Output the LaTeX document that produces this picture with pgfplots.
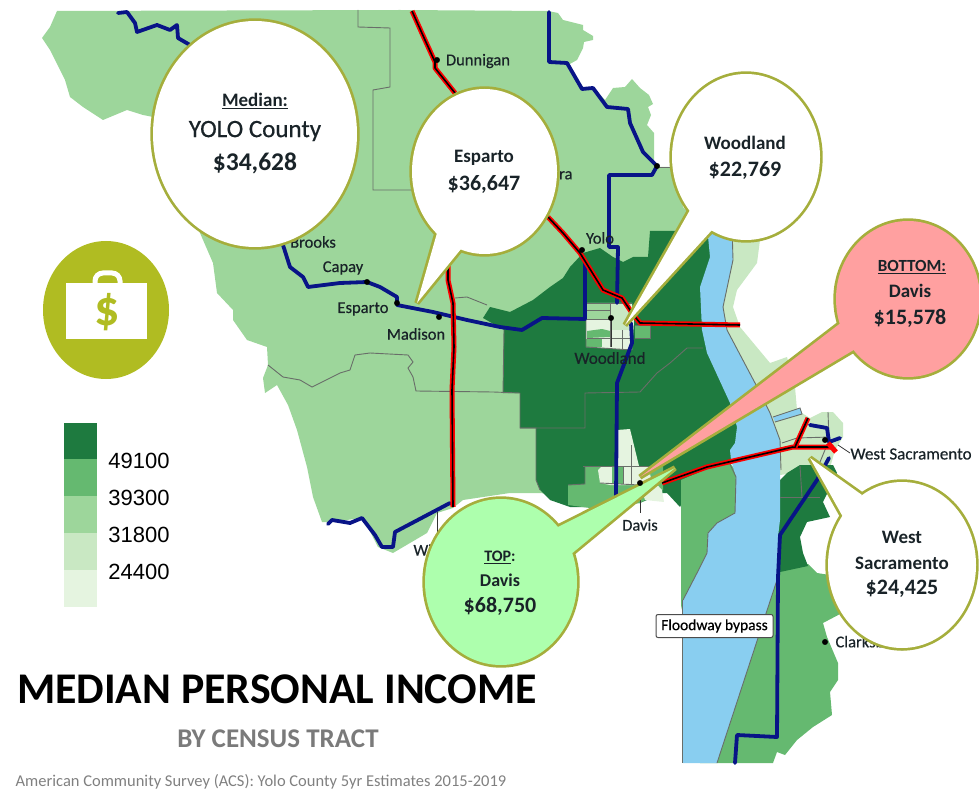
\documentclass[border=0pt]{standalone}
\usepackage{fontspec}
\usepackage{pgfplots}
\pgfplotsset{compat=1.18}
\setmainfont{Carlito}
\newfontfamily\arialf{Liberation Sans}
\newfontfamily\mapf[FakeBold=0.5]{Carlito}
\definecolor{g5}{RGB}{30,122,63}
\definecolor{g4}{RGB}{101,185,112}
\definecolor{g3}{RGB}{157,214,155}
\definecolor{g2}{RGB}{201,232,195}
\definecolor{g1}{RGB}{229,244,224}
\definecolor{river}{RGB}{137,206,240}
\definecolor{navy}{RGB}{8,20,135}
\definecolor{tract}{RGB}{105,110,105}
\definecolor{olive}{RGB}{165,174,60}
\definecolor{icon}{RGB}{176,188,34}
\definecolor{pinkb}{RGB}{255,160,160}
\definecolor{mintb}{RGB}{173,255,173}
\definecolor{txt}{RGB}{25,35,40}
\pgfplotsset{
  area/.style={fill=#1, draw=none},
  tr/.style={draw=tract, line width=0.9pt},
  road/.style={draw=navy, line width=3.8pt, line join=round, line cap=round},
  hwyr/.style={draw=red, line width=5pt, line join=round},
  hwyb/.style={draw=black, line width=1.6pt, line join=round},
}
% callout: stroke first, then fill over the inner half of the stroke
\newcommand{\bubble}[8]{%
  \draw[olive, line width=5.4pt, miter limit=4] (axis cs:#5) -- (axis cs:#6) -- (axis cs:#7) -- cycle;
  \draw[olive, line width=5.4pt] (axis cs:#1,#2) ellipse [x radius=#3pt, y radius=#4pt];
  \fill[#8] (axis cs:#5) -- (axis cs:#6) -- (axis cs:#7) -- cycle;
  \fill[#8] (axis cs:#1,#2) ellipse [x radius=#3pt, y radius=#4pt];
}
\newcommand{\sz}[1]{\fontsize{#1}{#1}\selectfont}
\newcommand{\lab}[4][\mapf\sz{16.5}]{\node[txt, font=#1] at (axis cs:#2,#3) {#4};}
\begin{document}
\begin{tikzpicture}
\path[use as bounding box] (0,0) rectangle (979pt,791pt);
\begin{axis}[
  at={(0,0)}, anchor=south west,
  scale only axis, width=979pt, height=791pt,
  xmin=0, xmax=979, ymin=0, ymax=791, y dir=reverse,
  hide axis,
]
% county base
\addplot[area=g3] coordinates {
 (57,11) (400,10) (548,11) (558,13) (563,20) (583,25) (583,30) (593,36) (593,40) (584,42) (583,48) (577,60) (568,65)
 (583,87) (593,88) (605,100) (613,88) (625,87) (632,79) (640,88) (649,95) (653,104) (648,107) (651,115) (647,125) (654,133)
 (654,167) (675,167) (683,207) (700,225) (700,320) (600,500) (540,493) (510,493) (463,500) (453,508) (437,513) (427,533)
 (393,553) (378,547) (363,518) (330,522) (322,522) (313,497) (307,467) (297,430) (288,405) (277,385) (265,393) (263,378)
 (268,365) (267,347) (247,340) (233,320) (233,310) (217,293) (213,263) (200,233) (153,117) (143,115) (127,110) (115,115)
 (103,120) (83,107) (70,97) (65,80) (50,50) (42,38) (50,27)
} --cycle;
% dark tract
\addplot[area=g5] coordinates {
 (483,318) (490,307) (510,312) (533,300) (550,287) (563,278) (570,267) (583,253) (600,248) (613,257) (623,262) (633,257)
 (648,257) (650,231) (685,231) (712,228) (740,400) (740,440) (731,462) (690,490) (680,507) (667,493) (663,493) (640,503)
 (593,507) (570,507) (550,500) (540,490) (536,480) (536,428) (520,428) (520,393) (503,393) (504,330)
} --cycle;
% east strip
\addplot[area=g2] coordinates {
 (730,238) (760,240) (757,263) (737,290) (733,307) (740,327) (770,363) (787,357) (795,387) (797,410) (810,418) (822,412)
 (833,412) (843,423) (843,437) (835,450) (830,468) (780,475) (775,440) (750,380) (720,330) (720,260)
} --cycle;
% south of West Sacramento
\addplot[area=g4] coordinates {
 (780,570) (808,564) (817,573) (830,575) (860,600) (842,613) (823,623) (827,637) (838,663) (838,680) (830,692) (832,715)
 (813,727) (797,740) (785,755) (777,752) (773,763) (700,763) (770,570)
} --cycle;
\addplot[area=g5] coordinates {
 (780,480) (787,473) (800,465) (833,465) (837,473) (823,502) (830,517) (807,522) (800,537) (803,553) (808,566) (780,572) (778,537)
} --cycle;
% west of the bypass
\addplot[area=g4] coordinates {
 (681,480) (728,460) (740,477) (740,513) (717,523) (708,533) (707,553) (697,573) (683,600) (681,610)
} --cycle;
% Floodway bypass
\addplot[area=river] coordinates {
 (707,226) (710,257) (700,287) (702,330) (707,353) (730,403) (737,427) (735,443) (730,450) (731,460) (736,477) (735,513)
 (717,523) (708,533) (707,553) (697,573) (683,600) (683,763) (717,763) (777,580) (778,537) (780,520) (780,440) (770,413)
 (755,383) (727,330) (723,307) (733,260) (732,226)
} --cycle;
\addplot[area=river] coordinates {(773,417) (800,408) (802,414) (775,422)} --cycle;
% Davis
\addplot[area=g4] coordinates {(568,485) (585,484) (585,466) (663,466) (663,490) (640,503) (600,507) (590,508) (568,505)} --cycle;
\addplot[area=g1] coordinates {
 (617,430) (630,429) (639,466) (648,466) (651,478) (662,490) (664,502) (645,500) (640,485) (610,485) (600,483) (598,470) (602,466) (617,466)
} --cycle;
\addplot[area=g4] coordinates {(612,467) (623,467) (623,484) (612,484)} --cycle;
% Woodland
\addplot[area=g1] coordinates {(586,303) (632,303) (634,322) (632,350) (586,347)} --cycle;
\addplot[area=g2] coordinates {(610,303) (631,303) (631,330) (610,330)} --cycle;
\addplot[area=g3] coordinates {(587,303) (610,303) (610,310) (587,310)} --cycle;
\addplot[area=g3] coordinates {(587,311) (610,311) (610,319) (587,319)} --cycle;
\addplot[area=g4] coordinates {(587,331) (602,329) (610,331) (610,337) (587,338)} --cycle;
\addplot[area=g4] coordinates {(586,339) (602,339) (602,347) (586,347)} --cycle;
\addplot[area=g4] coordinates {(635,325) (650,325) (650,338) (635,338)} --cycle;
% tract boundaries
\addplot[tr] coordinates {(358,10) (358,27) (390,28) (390,87) (373,90) (373,190) (413,190)};
\addplot[tr] coordinates {(268,365) (283,377) (300,380) (312,387) (340,373) (350,370) (355,355) (370,353) (408,355) (413,362) (408,368) (413,377) (416,391) (493,392) (520,393)};
\addplot[tr] coordinates {(455,298) (467,297) (487,305)};
\addplot[tr] coordinates {(503,393) (504,330)};
\addplot[tr] coordinates {(520,393) (520,428) (536,428) (536,480) (540,490)};
\addplot[tr] coordinates {(520,428) (585,428) (585,393) (640,392) (657,373) (670,363) (687,348) (703,348)};
\addplot[tr] coordinates {(732,226) (733,260) (723,307) (727,330) (755,383) (770,413) (780,440) (781,470)};
\addplot[tr] coordinates {(736,477) (735,513) (717,523) (708,533) (707,553) (697,573) (683,600)};
\addplot[tr] coordinates {(728,460) (736,477)};
\addplot[tr] coordinates {(682,600) (682,763)};
\addplot[tr] coordinates {(777,580) (717,763)};
\addplot[tr] coordinates {(773,417) (800,408) (802,414) (775,422)};
\addplot[tr] coordinates {(782,443) (797,438) (830,437)};
\addplot[tr] coordinates {(828,412) (829,440)};
\addplot[tr] coordinates {(827,445) (820,462)};
\addplot[tr] coordinates {(780,497) (820,497)};
\addplot[tr] coordinates {(800,466) (802,497)};
\addplot[tr] coordinates {(583,466) (663,466)};
\addplot[tr] coordinates {(585,466) (585,484) (568,485)};
\addplot[tr] coordinates {(600,483) (640,485)};
\addplot[tr] coordinates {(623,467) (623,484)};
\addplot[tr] coordinates {(631,445) (631,484)};
\addplot[tr] coordinates {(610,310.5) (587,310.5)};
\addplot[tr] coordinates {(587,319.5) (610,319.5)};
\addplot[tr] coordinates {(610,303) (610,347)};
\addplot[tr] coordinates {(587,303) (632,303)};
\addplot[tr] coordinates {(586,303) (586,347) (632,350)};
\addplot[tr] coordinates {(587,338.5) (632,338.5)};
\addplot[tr] coordinates {(622,330) (622,350)};
\addplot[tr] coordinates {(635,325) (650,325) (650,338) (635,338)};
\addplot[tr] coordinates {(658,167) (675,167)};
% leader lines
\addplot[draw=black!80, line width=0.8pt] coordinates {(611,318) (611,347)};
\addplot[draw=black!80, line width=0.8pt] coordinates {(640,483) (640,513)};
\addplot[draw=black!80, line width=0.8pt] coordinates {(437,512) (437,537)};
\addplot[draw=black!80, line width=0.8pt] coordinates {(838,445) (850,453)};
% county roads
\addplot[road] coordinates {(118,13) (127,12) (135,23) (137,32) (157,25) (170,30) (177,25) (178,38) (190,45)};
\addplot[road] coordinates {(283,245) (290,267) (303,277) (308,287) (340,283) (367,282) (380,287) (397,297) (397,305) (433,312) (467,320) (500,327) (522,330) (542,318) (585,319) (585,263)};
\addplot[road] coordinates {(549,12) (549,62) (567,63) (582,89) (593,88) (607,107) (628,109) (630,123) (643,152) (657,166) (652,175) (609,175) (609,247) (618,247) (617,303)};
\addplot[road] coordinates {(631,323) (632,343) (617,383) (616,497)};
\addplot[road] coordinates {(328,524) (332,520) (350,523) (362,518) (375,535) (382,547) (393,547) (395,532) (450,503)};
\addplot[road] coordinates {(829,458) (817,480) (780,535) (778,577) (777,737) (737,735) (735,763)};
\addplot[road] coordinates {(810,425) (827,428) (829,442) (840,438)};
% highways
\addplot[hwyr] coordinates {(412,11) (425,40) (435,62) (435,68) (455,93)};
\addplot[hwyb] coordinates {(412,11) (425,40) (435,62) (435,68) (455,93)};
\addplot[hwyr] coordinates {(548,217) (563,233) (580,253) (603,290) (622,298) (632,313) (640,323) (740,325)};
\addplot[hwyb] coordinates {(548,217) (563,233) (580,253) (603,290) (622,298) (632,313) (640,323) (740,325)};
\addplot[hwyr] coordinates {(448,263) (448,280) (453,303) (454,347) (452,390) (453,507)};
\addplot[hwyb] coordinates {(448,263) (448,280) (453,303) (454,347) (452,390) (453,507)};
\addplot[hwyr] coordinates {(662,483) (707,467) (793,447) (833,447)};
\addplot[hwyb] coordinates {(662,483) (707,467) (793,447) (833,447)};
\addplot[hwyr] coordinates {(795,447) (808,418)};
\addplot[hwyb] coordinates {(795,447) (808,418)};
\addplot[hwyr] coordinates {(828,443) (836,452)};
% towns
\addplot[only marks, mark=*, mark size=2.7pt, black] coordinates {
 (437,60) (582,250) (439,317) (367,282) (397,303) (611,318) (640,483) (825,440) (825,642) (657,166)
};
% town names
\lab{478}{61}{Dunnigan}
\lab{313}{242}{Brooks}
\lab{343}{268}{Capay}
\lab{363}{309}{Esparto}
\lab{416}{334}{Madison}
\lab{600}{238}{Yolo}
\node[txt, font=\mapf\sz{16.5}, anchor=east] at (axis cs:576,174) {Zamora};
\lab[\mapf\sz{17}]{610}{358}{Woodland}
\lab{640}{525}{Davis}
\lab[\mapf\sz{17}]{911}{454}{West Sacramento}
\node[txt, font=\mapf\sz{16.5}, anchor=west] at (axis cs:832,643) {Clarksburg};
\node[txt, font=\mapf\sz{16.5}, anchor=west] at (axis cs:410,550) {Winters};
\node[fill=white, draw=black!70, line width=1pt, rounded corners=2pt, inner sep=0pt,
  minimum width=117pt, minimum height=23pt, font=\mapf\sz{15.5}, text=black] at (axis cs:714.5,626) {Floodway bypass};
% callouts
\bubble{255}{134}{102}{113}{255,134}{255,134}{255,134}{white}
\bubble{484.5}{171.5}{72.5}{82.5}{437,233}{461,249}{417,303}{white}
\bubble{746}{157}{74}{83}{690,210}{712,230}{625,325}{white}
\bubble{908}{299}{72}{78}{842,322}{857,348}{640,477}{pinkb}
\bubble{501}{582}{76}{83}{556,528}{570,555}{675,468}{mintb}
\bubble{902}{565}{74}{83}{843,517}{862,495}{810,458}{white}
\lab[\bfseries\sz{19}]{255}{101}{\underline{Median:}}
\lab[\mapf\sz{25}]{255}{131}{YOLO County}
\lab[\bfseries\sz{25.5}]{255}{163}{\$34,628}
\lab[\bfseries\sz{19}]{484}{158}{Esparto}
\lab[\bfseries\sz{22}]{484}{184}{\$36,647}
\lab[\bfseries\sz{19}]{745}{143}{Woodland}
\lab[\bfseries\sz{22}]{745}{170}{\$22,769}
\lab[\bfseries\sz{17}]{912}{267}{\underline{BOTTOM:}}
\lab[\bfseries\sz{19}]{910}{291}{Davis}
\lab[\bfseries\sz{22}]{910}{318}{\$15,578}
\lab[\bfseries\sz{16}]{500}{557}{\underline{TOP}:}
\lab[\bfseries\sz{18}]{500}{580}{Davis}
\lab[\bfseries\sz{22}]{500}{606}{\$68,750}
\lab[\bfseries\sz{19}]{902}{537}{West}
\lab[\bfseries\sz{19}]{902}{563}{Sacramento}
\lab[\bfseries\sz{22}]{902}{589}{\$24,425}
% income bag
\fill[icon] (axis cs:106,310) ellipse [x radius=63pt, y radius=69pt];
\draw[white, line width=5pt] (axis cs:95,286) -- (axis cs:95,281) arc[start angle=180, end angle=90, radius=8pt] -- (axis cs:112,273) arc[start angle=90, end angle=0, radius=8pt] -- (axis cs:120,286);
\fill[white] (axis cs:66,283) rectangle (axis cs:147,339);
\node[icon, font=\bfseries\sz{50}] at (axis cs:107,312) {\$};
% legend
\addplot[area=g5] coordinates {(64,423) (97,423) (97,459) (64,459)} --cycle;
\addplot[area=g4] coordinates {(64,459) (97,459) (97,496) (64,496)} --cycle;
\addplot[area=g3] coordinates {(64,496) (97,496) (97,533) (64,533)} --cycle;
\addplot[area=g2] coordinates {(64,533) (97,533) (97,570) (64,570)} --cycle;
\addplot[area=g1] coordinates {(64,570) (97,570) (97,607) (64,607)} --cycle;
\node[font=\arialf\sz{22}, text=black] at (axis cs:139,461) {49100};
\node[font=\arialf\sz{22}, text=black] at (axis cs:139,498) {39300};
\node[font=\arialf\sz{22}, text=black] at (axis cs:139,535) {31800};
\node[font=\arialf\sz{22}, text=black] at (axis cs:139,572) {24400};
% titles
\node[font=\bfseries\sz{43.8}, text=black] at (axis cs:277,689) {MEDIAN PERSONAL INCOME};
\node[font=\bfseries\sz{27}, text=black!52] at (axis cs:278,739) {BY CENSUS TRACT};
\node[font=\sz{16.5}, text=black!50] at (axis cs:261,782) {American Community Survey (ACS): Yolo County 5yr Estimates 2015-2019};
\end{axis}
\end{tikzpicture}
\end{document}
